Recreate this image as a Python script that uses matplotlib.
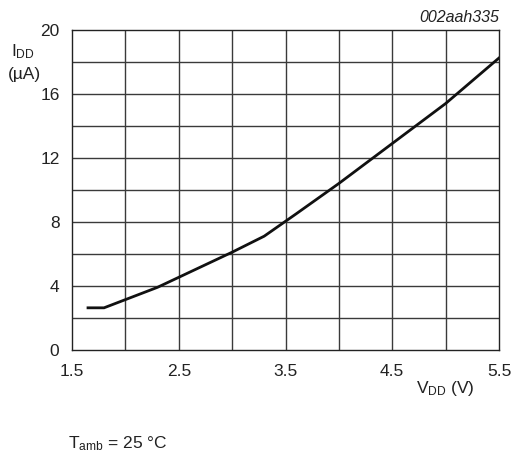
import matplotlib
matplotlib.use("Agg")
import matplotlib.pyplot as plt

plt.rcParams['font.family'] = ['Liberation Sans', 'DejaVu Sans']
plt.rcParams['mathtext.fontset'] = 'custom'
plt.rcParams['mathtext.rm'] = 'Liberation Sans'
plt.rcParams['mathtext.it'] = 'Liberation Sans:italic'

vdd = [1.65, 1.80, 2.30, 3.00, 3.30, 3.60, 4.00, 4.50, 5.00, 5.50]
idd = [2.62, 2.62, 3.90, 6.10, 7.10, 8.50, 10.40, 12.90, 15.40, 18.25]
x_ticks = [1.5, 2.5, 3.5, 4.5, 5.5]
y_ticks = [0, 4, 8, 12, 16, 20]

FS = 12.5
fig = plt.figure(figsize=(5.15, 4.59), dpi=100)
ax = fig.add_axes([72/515, 1-349.7/459, 427/515, 319.7/459])
ax.set_xlim(1.5, 5.5)
ax.set_ylim(0, 20)
for xv in [2.0, 2.5, 3.0, 3.5, 4.0, 4.5, 5.0]:
    ax.axvline(xv, color='#3a3a3a', lw=1.0, zorder=1)
for yv in range(2, 20, 2):
    ax.axhline(yv, color='#3a3a3a', lw=1.0, zorder=1)
for s in ax.spines.values():
    s.set_color('#222222')
    s.set_linewidth(1.0)
ax.plot(vdd, idd, color='#111111', lw=2.0, zorder=3, solid_joinstyle='miter')
ax.set_xticks(x_ticks)
ax.set_xticklabels([f"{v:.1f}" for v in x_ticks])
ax.set_yticks(y_ticks)
ax.set_yticklabels([str(v) for v in y_ticks])
ax.tick_params(axis='y', length=0, labelsize=FS, colors='#222222', pad=9)
ax.tick_params(axis='x', length=0, labelsize=FS, colors='#222222', pad=10)

fig.text(499/515, 1-18/459, '002aah335', ha='right', va='center', fontsize=11.5, style='italic', color='#222222')
fig.text(23/515, 1-52/459, r'I$_{\mathregular{DD}}$', ha='center', va='center', fontsize=FS, color='#222222')
fig.text(24/515, 1-75/459, '(µA)', ha='center', va='center', fontsize=FS, color='#222222')
fig.text(445/515, 1-388/459, r'V$_{\mathregular{DD}}$ (V)', ha='center', va='center', fontsize=FS, color='#222222')
fig.text(68/515, 1-444/459, r'T$_{\mathregular{amb}}$ = 25 °C', ha='left', va='center', fontsize=FS, color='#222222')

fig.savefig('out.png', dpi=100)
